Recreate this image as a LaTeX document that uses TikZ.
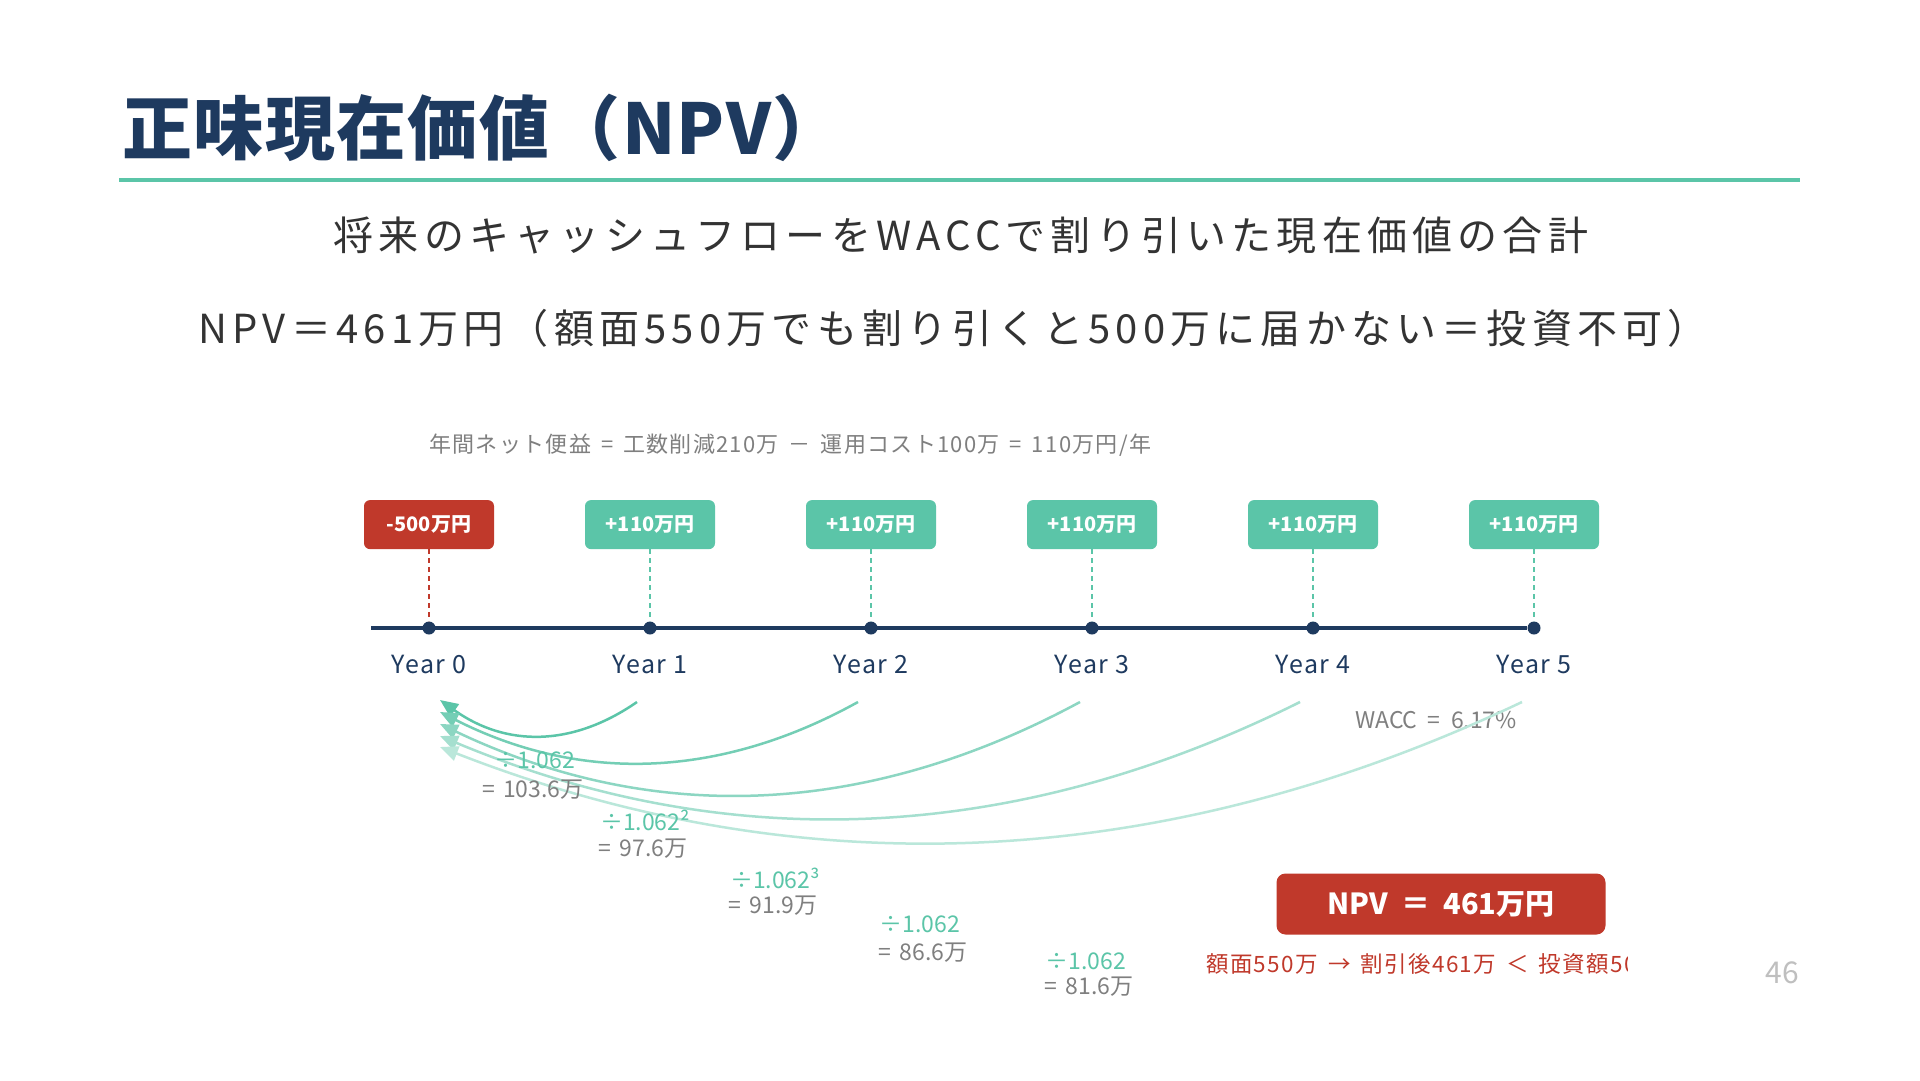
\documentclass[tikz,border=0pt]{standalone}
\usepackage{fontspec}
\setmainfont{Noto Sans CJK JP}
\newfontfamily\widefont[LetterSpace=13]{Noto Sans CJK JP}
\newfontfamily\trackfont[LetterSpace=6]{Noto Sans CJK JP}
\newfontfamily\headfont[LetterSpace=2]{Noto Sans CJK JP}
\newcommand{\gapsym}[1]{\hspace{0.45em}#1\hspace{0.45em}}
\usetikzlibrary{arrows.meta,positioning}
\definecolor{navy}{HTML}{1E3A5F}
\definecolor{mint}{HTML}{5BC5A8}
\definecolor{brick}{HTML}{C0392B}
\definecolor{ink}{HTML}{333333}
\definecolor{mute}{HTML}{7F7F7F}

\begin{document}
\begin{tikzpicture}[
    x=1pt, y=-1pt,
    flowbox/.style={
        rectangle,
        rounded corners=6pt,
        fill=mint,
        text=white,
        font=\fontsize{20}{24}\selectfont\bfseries,
        minimum width=130pt,
        minimum height=49pt,
        inner sep=0pt
    },
    lossbox/.style={
        flowbox,
        fill=brick
    },
    tickline/.style={
        draw=mint,
        line width=2pt,
        dash pattern=on 5pt off 4pt
    },
    yeardot/.style={
        circle,
        fill=navy,
        minimum size=13pt,
        inner sep=0pt
    },
    yearlbl/.style={
        text=navy,
        font=\trackfont\fontsize{25}{28}\selectfont,
        inner sep=0pt
    },
    pvarrow/.style={
        -{Triangle[length=18pt,width=15pt]},
        line width=2.5pt
    },
    divlbl/.style={
        text=mint,
        font=\fontsize{23}{26}\selectfont,
        inner sep=0pt
    },
    vallbl/.style={
        text=mute,
        font=\fontsize{23}{26}\selectfont,
        inner sep=0pt
    }
]

\useasboundingbox (0,0) rectangle (1920,1080);
\fill[white] (0,0) rectangle (1920,1080);

% heading
\node[anchor=west, inner sep=0pt, text=navy, font=\headfont\fontsize{70}{74}\selectfont\bfseries] (title) at (122,128) {正味現在価値（NPV）};
\draw[draw=mint, line width=4pt] (119,180) -- (1800,180);

\node[text=ink, font=\widefont\fontsize{40}{44}\selectfont] (lead) at (961,235) {将来のキャッシュフローをWACCで割り引いた現在価値の合計};
\node[text=ink, font=\widefont\fontsize{40}{44}\selectfont] (claim) at (953,328) {NPV＝461万円（額面550万でも割り引くと500万に届かない＝投資不可）};

\node[anchor=west, inner sep=0pt, text=mute, font=\trackfont\fontsize{22}{25}\selectfont] (benefit) at (429,445) {年間ネット便益\gapsym{=}工数削減210万\gapsym{－}運用コスト100万\gapsym{=}110万円/年};

% timeline
\coordinate (tl) at (371,628);
\node[yeardot] (t0) at (429,628) {};
\node[yeardot] (t1) at (650,628) {};
\node[yeardot] (t2) at (871,628) {};
\node[yeardot] (t3) at (1092,628) {};
\node[yeardot] (t4) at (1313,628) {};
\node[yeardot] (t5) at (1534,628) {};
\draw[draw=navy, line width=3.5pt] (tl) -- (t5);

\node[lossbox, above=72pt of t0] (cf0) {-500万円};
\node[flowbox, above=72pt of t1] (cf1) {+110万円};
\node[flowbox, above=72pt of t2] (cf2) {+110万円};
\node[flowbox, above=72pt of t3] (cf3) {+110万円};
\node[flowbox, above=72pt of t4] (cf4) {+110万円};
\node[flowbox, above=72pt of t5] (cf5) {+110万円};

\draw[tickline, draw=brick] (cf0) -- (t0);
\draw[tickline] (cf1) -- (t1);
\draw[tickline] (cf2) -- (t2);
\draw[tickline] (cf3) -- (t3);
\draw[tickline] (cf4) -- (t4);
\draw[tickline] (cf5) -- (t5);

\node[yearlbl, below=20pt of t0] (y0) {Year 0};
\node[yearlbl, below=20pt of t1] (y1) {Year 1};
\node[yearlbl, below=20pt of t2] (y2) {Year 2};
\node[yearlbl, below=20pt of t3] (y3) {Year 3};
\node[yearlbl, below=20pt of t4] (y4) {Year 4};
\node[yearlbl, below=20pt of t5] (y5) {Year 5};

\node[vallbl] (wacc) at (1436,720) {WACC\gapsym{=}6.17\%};

% discounting back to year 0
\coordinate (s1) at (637,702);  \coordinate (e1) at (440,700);
\coordinate (s2) at (858,702);  \coordinate (e2) at (440,712);
\coordinate (s3) at (1080,702); \coordinate (e3) at (440,724);
\coordinate (s4) at (1300,702); \coordinate (e4) at (440,736);
\coordinate (s5) at (1522,702); \coordinate (e5) at (440,747);

\draw[pvarrow, draw=mint] (s1) .. controls (572,747) and (506,747) .. (e1);
\draw[pvarrow, draw=mint!85!white] (s2) .. controls (719,779) and (580,783) .. (e2);
\draw[pvarrow, draw=mint!70!white] (s3) .. controls (867,817) and (654,826) .. (e3);
\draw[pvarrow, draw=mint!55!white] (s4) .. controls (1013,845) and (727,856) .. (e4);
\draw[pvarrow, draw=mint!42!white] (s5) .. controls (1161,873) and (801,888) .. (e5);

\node[divlbl] (d1) at (535,760) {÷1.062};
\node[vallbl] (v1) at (533,790) {=\hspace{0.35em}103.6万};
\node[divlbl] (d2) at (645,820) {÷1.062²};
\node[vallbl] (v2) at (643,849) {=\hspace{0.35em}97.6万};
\node[divlbl] (d3) at (775,878) {÷1.062³};
\node[vallbl] (v3) at (773,906) {=\hspace{0.35em}91.9万};
\node[divlbl] (d4) at (920,924) {÷1.062};
\node[vallbl] (v4) at (923,953) {=\hspace{0.35em}86.6万};
\node[divlbl] (d5) at (1086,961) {÷1.062};
\node[vallbl] (v5) at (1089,987) {=\hspace{0.35em}81.6万};

% result
\node[lossbox, minimum width=329pt, minimum height=61pt, rounded corners=9pt, font=\fontsize{29}{32}\selectfont\bfseries] (npv) at (1441,904) {NPV\gapsym{＝}461万円};
\begin{scope}
\clip (1150,940) rectangle (1627,990);
\node[anchor=west, inner sep=0pt, text=brick, font=\trackfont\fontsize{22.5}{26}\selectfont] (gap) at (1206,964) {額面550万\gapsym{→}割引後461万\gapsym{＜}投資額500万};
\end{scope}

\node[text=black!25, font=\fontsize{30}{34}\selectfont] (page) at (1782,973) {46};

\end{tikzpicture}
\end{document}
